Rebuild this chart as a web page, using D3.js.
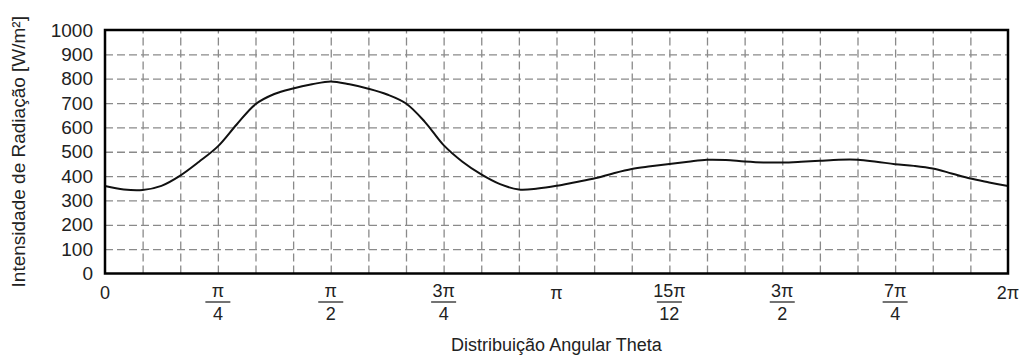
<!DOCTYPE html>
<html>
<head>
<meta charset="utf-8">
<script src="https://cdn.jsdelivr.net/npm/d3@7"></script>
<style>
  body { margin: 0; background: #fff; }
  text { font-family: "Liberation Sans", Arial, sans-serif; fill: #222; }
</style>
</head>
<body>
<div id="chart"></div>
<script>
'use strict';

// angle in degrees (every 7.5 deg), intensity in W/m2
const thetaDeg = [0, 7.5, 15, 22.5, 30, 37.5, 45, 52.5, 60, 67.5, 75, 82.5, 90,
  97.5, 105, 112.5, 120, 127.5, 135, 142.5, 150, 157.5, 165, 172.5, 180,
  187.5, 195, 202.5, 210, 217.5, 225, 232.5, 240, 247.5, 255, 262.5, 270,
  277.5, 285, 292.5, 300, 307.5, 315, 322.5, 330, 337.5, 345, 352.5, 360];
const intensity = [359, 345, 343, 360, 402, 459, 522, 612, 695, 737, 760, 777, 789,
  777, 759, 735, 698, 623, 527, 459, 407, 367, 345, 349, 360,
  375, 390, 411, 429, 440, 450, 459, 467, 466, 460, 456, 456,
  459, 463, 467, 467, 459, 449, 442, 431, 411, 390, 374, 359];

const yTicks = [0, 100, 200, 300, 400, 500, 600, 700, 800, 900, 1000];
// x labels: numerator / denominator ('' = no fraction)
const xLabelNum = ['0', 'π', 'π', '3π', 'π', '15π', '3π', '7π', '2π'];
const xLabelDen = ['', '4', '2', '4', '', '12', '2', '4', ''];

const width = 1019, height = 355;
const margin = {top: 30, right: 11, bottom: 81.5, left: 105};
const w = width - margin.left - margin.right,
      h = height - margin.top - margin.bottom;

const svg = d3.select('#chart').append('svg')
  .attr('width', width).attr('height', height);
const g = svg.append('g')
  .attr('transform', 'translate(' + margin.left + ',' + margin.top + ')');

const x = d3.scaleLinear().domain([0, 2 * Math.PI]).range([0, w]);
const y = d3.scaleLinear().domain([0, 1000]).range([h, 0]);

// grid: vertical every pi/12, horizontal every 100
const gridX = d3.range(1, 24).map(k => k * Math.PI / 12);
g.append('g').attr('class', 'grid')
  .attr('transform', 'translate(0,' + h + ')')
  .call(d3.axisBottom(x).tickValues(gridX).tickSize(-h).tickFormat(''))
  .call(s => s.select('.domain').remove());
g.append('g').attr('class', 'grid')
  .call(d3.axisLeft(y).tickValues(yTicks.slice(1, -1)).tickSize(-w).tickFormat(''))
  .call(s => s.select('.domain').remove());
g.selectAll('.grid line')
  .attr('stroke', '#8a8a8a')
  .attr('stroke-width', 1.3)
  .attr('stroke-dasharray', '8,4');

// y axis labels
g.append('g')
  .call(d3.axisLeft(y).tickValues(yTicks).tickSize(0).tickPadding(12).tickFormat(d3.format('d')))
  .call(s => s.select('.domain').remove())
  .selectAll('text')
  .style('font-size', '19px')
  .attr('fill', '#222');

// x axis labels (fractions)
const xl = g.append('g').attr('transform', 'translate(0,' + h + ')');
const labs = xl.selectAll('g.xlab')
  .data(xLabelNum.map((n, i) => ({num: n, den: xLabelDen[i], v: i * Math.PI / 4})))
  .enter().append('g')
  .attr('class', 'xlab')
  .attr('transform', d => 'translate(' + x(d.v) + ',0)');
labs.append('text')
  .attr('text-anchor', 'middle')
  .attr('y', d => d.den ? 23 : 25)
  .style('font-size', '18px')
  .text(d => d.num);
labs.filter(d => d.den).append('line')
  .attr('x1', -12.5).attr('x2', 12.5)
  .attr('y1', 28.5).attr('y2', 28.5)
  .attr('stroke', '#444').attr('stroke-width', 1.5);
labs.filter(d => d.den).append('text')
  .attr('text-anchor', 'middle')
  .attr('y', 46)
  .style('font-size', '18px')
  .text(d => d.den);

// curve
const line = d3.line()
  .x((d, i) => x(thetaDeg[i] * Math.PI / 180))
  .y(d => y(d))
  .curve(d3.curveCatmullRom.alpha(0.5));
g.append('path')
  .datum(intensity)
  .attr('fill', 'none')
  .attr('stroke', '#111')
  .attr('stroke-width', 2)
  .attr('d', line);

// frame
g.append('rect')
  .attr('width', w).attr('height', h)
  .attr('fill', 'none')
  .attr('stroke', '#000')
  .attr('stroke-width', 2.5);

// titles
svg.append('text')
  .attr('x', margin.left + x(Math.PI)).attr('y', 351)
  .attr('text-anchor', 'middle')
  .style('font-size', '18px')
  .text('Distribuição Angular Theta');
svg.append('text')
  .attr('transform', 'translate(25,' + (margin.top + h / 2) + ') rotate(-90)')
  .attr('text-anchor', 'middle')
  .style('font-size', '19px')
  .text('Intensidade de Radiação [W/m²]');
</script>
</body>
</html>
